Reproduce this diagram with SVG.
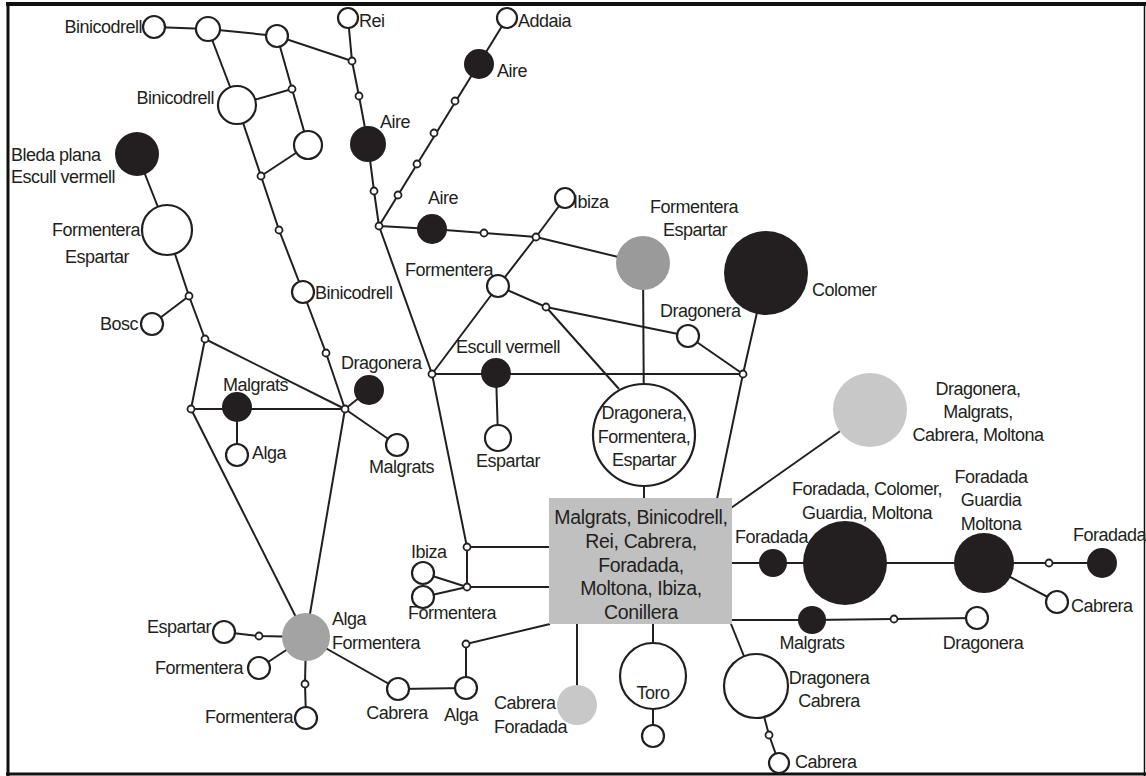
<svg xmlns="http://www.w3.org/2000/svg" width="1146" height="776" viewBox="0 0 1146 776">
<style>
text{font-family:"Liberation Sans",Arial,sans-serif;font-size:18px;letter-spacing:-0.5px;fill:#231f20}
.bx{font-size:19.5px;letter-spacing:-0.35px}
.m{text-anchor:middle}
.e{text-anchor:end}
.c line,.c polyline{stroke:#231f20;stroke-width:2;fill:none}
.o{fill:#fff;stroke:#231f20;stroke-width:2.2}
.j{fill:#fff;stroke:#231f20;stroke-width:1.8}
.k{fill:#231f20}
.g1{fill:#9a9a9a}
.g2{fill:#a3a3a3}
.g3{fill:#c8c8c8}
</style>
<rect x="0" y="0" width="1146" height="776" fill="#fff"/>
<g id="frame" stroke="#111" fill="none">
<line x1="6" y1="4" x2="1146" y2="4" stroke-width="4"/>
<line x1="8" y1="2" x2="8" y2="776" stroke-width="3"/>
<line x1="6" y1="774" x2="1146" y2="774" stroke-width="3"/>
<line x1="1144.5" y1="2" x2="1144.5" y2="776" stroke-width="1.5"/>
</g>
<g id="connectors" class="c">
<polyline points="154,27 208,29 277,36 352,61"/>
<line x1="208" y1="29" x2="237" y2="105"/>
<line x1="237" y1="105" x2="292" y2="89"/>
<polyline points="277,36 292,89 308,145"/>
<polyline points="237,105 261,176 279,230 303,292 326,353 345,409"/>
<line x1="261" y1="176" x2="308" y2="145"/>
<polyline points="348,18 352,61 359,96 368,144 374,191 379,226"/>
<line x1="507" y1="18" x2="379" y2="226"/>
<polyline points="379,226 432,229 484,233 536,237 643,263"/>
<line x1="536" y1="237" x2="565" y2="198"/>
<polyline points="536,237 498,286 432,374"/>
<polyline points="498,286 546,307 688,336"/>
<line x1="546" y1="307" x2="619" y2="389"/>
<line x1="688" y1="336" x2="743" y2="374"/>
<line x1="432" y1="374" x2="743" y2="374"/>
<line x1="496" y1="373" x2="498" y2="438"/>
<line x1="643" y1="263" x2="644" y2="435"/>
<line x1="644" y1="435" x2="644" y2="499"/>
<polyline points="766,273 743,374 717,499"/>
<line x1="731" y1="508" x2="870" y2="410"/>
<polyline points="379,226 432,374 467,547 467,587"/>
<line x1="467" y1="547" x2="550" y2="547"/>
<line x1="467" y1="587" x2="550" y2="587"/>
<line x1="423" y1="573" x2="467" y2="587"/>
<line x1="423" y1="597" x2="467" y2="587"/>
<polyline points="550,624 466,644 466,688 398,689 306,637"/>
<polyline points="306,637 305,684 306,718"/>
<polyline points="306,637 259,636 224,632"/>
<line x1="306" y1="637" x2="259" y2="668"/>
<line x1="345" y1="409" x2="306" y2="637"/>
<line x1="191" y1="409" x2="306" y2="637"/>
<polyline points="137,154 167,230 189,296 205,339 191,409 345,409"/>
<line x1="189" y1="296" x2="152" y2="324"/>
<line x1="205" y1="339" x2="345" y2="409"/>
<line x1="237" y1="407" x2="237" y2="455"/>
<line x1="345" y1="409" x2="369" y2="390"/>
<line x1="345" y1="409" x2="397" y2="445"/>
<line x1="577" y1="623" x2="577" y2="705"/>
<line x1="653" y1="623" x2="653" y2="736"/>
<polyline points="731,624 756,686 769,735 779,763"/>
<line x1="731" y1="563" x2="1102" y2="563"/>
<line x1="984" y1="563" x2="1057" y2="602"/>
<polyline points="731,620 812,620 894,619 977,618"/>
</g>
<g id="n_binicodrell1"><circle class="o" cx="154" cy="27" r="11"/><text class="e" x="142" y="33">Binicodrell</text></g>
<g id="n_a1"><circle class="o" cx="208" cy="29" r="12"/></g>
<g id="n_a2"><circle class="o" cx="277" cy="36" r="11"/></g>
<g id="n_binicodrell2"><circle class="o" cx="237" cy="105" r="19"/><text class="e" x="214" y="104">Binicodrell</text></g>
<g id="n_a3"><circle class="o" cx="308" cy="145" r="14"/></g>
<g id="n_j_bin"><circle class="j" cx="292" cy="89" r="3.5"/><circle class="j" cx="261" cy="176" r="3.5"/><circle class="j" cx="279" cy="230" r="3.5"/><circle class="j" cx="326" cy="353" r="3.5"/></g>
<g id="n_binicodrell3"><circle class="o" cx="303" cy="292" r="11"/><text x="315" y="299">Binicodrell</text></g>
<g id="n_rei"><circle class="o" cx="348" cy="18" r="10"/><text x="359" y="27">Rei</text></g>
<g id="n_j_rei"><circle class="j" cx="352" cy="61" r="3.5"/><circle class="j" cx="359" cy="96" r="3.5"/><circle class="j" cx="374" cy="191" r="3.5"/><circle class="j" cx="379" cy="226" r="3.5"/></g>
<g id="n_aire1"><circle class="k" cx="368" cy="144" r="18"/><text x="380" y="128">Aire</text></g>
<g id="n_addaia"><circle class="o" cx="507" cy="18" r="10"/><text x="518" y="27">Addaia</text></g>
<g id="n_aire2"><circle class="k" cx="479" cy="64" r="15"/><text x="497" y="77">Aire</text></g>
<g id="n_j_addaia"><circle class="j" cx="455" cy="101" r="3.5"/><circle class="j" cx="434" cy="133" r="3.5"/><circle class="j" cx="417" cy="164" r="3.5"/><circle class="j" cx="398" cy="195" r="3.5"/></g>
<g id="n_aire3"><circle class="k" cx="432" cy="229" r="15"/><text x="428" y="204">Aire</text></g>
<g id="n_j_aire3"><circle class="j" cx="484" cy="233" r="3.5"/><circle class="j" cx="536" cy="237" r="3.5"/></g>
<g id="n_ibiza1"><circle class="o" cx="565" cy="198" r="10"/><text x="573" y="208">Ibiza</text></g>
<g id="n_formentera_espartar_g"><circle class="g1" cx="643" cy="263" r="27"/><text class="m" x="694" y="213">Formentera</text><text class="m" x="695" y="236">Espartar</text></g>
<g id="n_colomer"><circle class="k" cx="766" cy="273" r="42"/><text x="812" y="296">Colomer</text></g>
<g id="n_formentera1"><circle class="o" cx="498" cy="286" r="11"/><text x="405" y="276">Formentera</text></g>
<g id="n_j_f1"><circle class="j" cx="546" cy="307" r="3.5"/></g>
<g id="n_dragonera1"><circle class="o" cx="688" cy="336" r="11"/><text x="660" y="317">Dragonera</text></g>
<g id="n_j_374"><circle class="j" cx="743" cy="374" r="3.5"/><circle class="j" cx="432" cy="374" r="3.5"/></g>
<g id="n_escull"><circle class="k" cx="496" cy="373" r="15"/><text x="456" y="353">Escull vermell</text></g>
<g id="n_espartar1"><circle class="o" cx="498" cy="438" r="13"/><text x="476" y="467">Espartar</text></g>
<g id="n_dfe"><circle class="o" cx="644" cy="435" r="51"/><text class="m" x="644" y="419">Dragonera,</text><text class="m" x="644" y="443">Formentera,</text><text class="m" x="644" y="466">Espartar</text></g>
<g id="n_dmcm"><circle class="g3" cx="870" cy="410" r="37"/><text class="m" x="978" y="395">Dragonera,</text><text class="m" x="978" y="418">Malgrats,</text><text class="m" x="978" y="441">Cabrera, Moltona</text></g>
<g id="n_bleda"><circle class="k" cx="137" cy="154" r="22"/><text x="11" y="161">Bleda plana</text><text x="11" y="183">Escull vermell</text></g>
<g id="n_formentera_espartar_w"><circle class="o" cx="167" cy="230" r="25"/><text class="m" x="96" y="236">Formentera</text><text class="m" x="97" y="263">Espartar</text></g>
<g id="n_j_left"><circle class="j" cx="189" cy="296" r="3.5"/><circle class="j" cx="205" cy="339" r="3.5"/><circle class="j" cx="191" cy="409" r="3.5"/><circle class="j" cx="345" cy="409" r="3.5"/></g>
<g id="n_bosc"><circle class="o" cx="152" cy="324" r="11"/><text class="e" x="138" y="330">Bosc</text></g>
<g id="n_malgrats1"><circle class="k" cx="237" cy="407" r="15"/><text x="223" y="391">Malgrats</text></g>
<g id="n_alga1"><circle class="o" cx="237" cy="455" r="11"/><text x="252" y="459">Alga</text></g>
<g id="n_dragonera2"><circle class="k" cx="369" cy="390" r="15"/><text x="341" y="369">Dragonera</text></g>
<g id="n_malgrats2"><circle class="o" cx="397" cy="445" r="11"/><text x="369" y="473">Malgrats</text></g>
<g id="n_box"><rect x="549" y="498" width="183" height="126" fill="#c0c0c0"/><text class="m bx" x="641" y="524">Malgrats, Binicodrell,</text><text class="m bx" x="641" y="548">Rei, Cabrera,</text><text class="m bx" x="641" y="572">Foradada,</text><text class="m bx" x="641" y="595">Moltona, Ibiza,</text><text class="m bx" x="641" y="619">Conillera</text></g>
<g id="n_j_box"><circle class="j" cx="467" cy="547" r="3.5"/><circle class="j" cx="467" cy="587" r="3.5"/><circle class="j" cx="466" cy="644" r="3.5"/></g>
<g id="n_ibiza2"><circle class="o" cx="423" cy="573" r="11"/><text x="411" y="558">Ibiza</text></g>
<g id="n_formentera2"><circle class="o" cx="423" cy="597" r="11"/><text x="408" y="619">Formentera</text></g>
<g id="n_alga_form"><circle class="g2" cx="306" cy="637" r="24"/><text x="332" y="625">Alga</text><text x="332" y="649">Formentera</text></g>
<g id="n_espartar2"><circle class="o" cx="224" cy="632" r="11"/><text class="e" x="211" y="633">Espartar</text></g>
<g id="n_j_esp2"><circle class="j" cx="259" cy="636" r="3.5"/><circle class="j" cx="305" cy="684" r="3.5"/></g>
<g id="n_formentera3"><circle class="o" cx="259" cy="668" r="11"/><text class="e" x="243" y="674">Formentera</text></g>
<g id="n_formentera4"><circle class="o" cx="306" cy="718" r="11"/><text class="e" x="293" y="723">Formentera</text></g>
<g id="n_cabrera1"><circle class="o" cx="398" cy="689" r="11"/><text class="m" x="397" y="719">Cabrera</text></g>
<g id="n_alga2"><circle class="o" cx="466" cy="688" r="11"/><text x="444" y="721">Alga</text></g>
<g id="n_cabrera_foradada"><circle class="g3" cx="577" cy="705" r="20"/><text x="494" y="709">Cabrera</text><text x="494" y="733">Foradada</text></g>
<g id="n_toro"><circle class="o" cx="653" cy="676" r="33"/><text class="m" x="653" y="699">Toro</text><circle class="o" cx="653" cy="736" r="11"/></g>
<g id="n_dragonera_cabrera"><circle class="o" cx="756" cy="686" r="32"/><text class="m" x="829" y="684">Dragonera</text><text class="m" x="829" y="707">Cabrera</text></g>
<g id="n_j_dc"><circle class="j" cx="769" cy="735" r="3.5"/></g>
<g id="n_cabrera2"><circle class="o" cx="779" cy="763" r="10"/><text x="795" y="768">Cabrera</text></g>
<g id="n_foradada1"><circle class="k" cx="773" cy="563" r="14"/><text x="735" y="543">Foradada</text></g>
<g id="n_fcgm"><circle class="k" cx="845" cy="563" r="42"/><text class="m" x="867" y="495">Foradada, Colomer,</text><text class="m" x="867" y="519">Guardia, Moltona</text></g>
<g id="n_fgm"><circle class="k" cx="984" cy="563" r="30"/><text class="m" x="991" y="483">Foradada</text><text class="m" x="991" y="506">Guardia</text><text class="m" x="991" y="530">Moltona</text></g>
<g id="n_j_fgm"><circle class="j" cx="1049" cy="563" r="3.5"/></g>
<g id="n_foradada2"><circle class="k" cx="1102" cy="563" r="15"/><text x="1073" y="541">Foradada</text></g>
<g id="n_cabrera3"><circle class="o" cx="1057" cy="602" r="11"/><text x="1071" y="612">Cabrera</text></g>
<g id="n_malgrats3"><circle class="k" cx="812" cy="620" r="14"/><text class="m" x="812" y="649">Malgrats</text></g>
<g id="n_j_m3"><circle class="j" cx="894" cy="619" r="3.5"/></g>
<g id="n_dragonera3"><circle class="o" cx="977" cy="618" r="11"/><text class="m" x="983" y="649">Dragonera</text></g>
</svg>
